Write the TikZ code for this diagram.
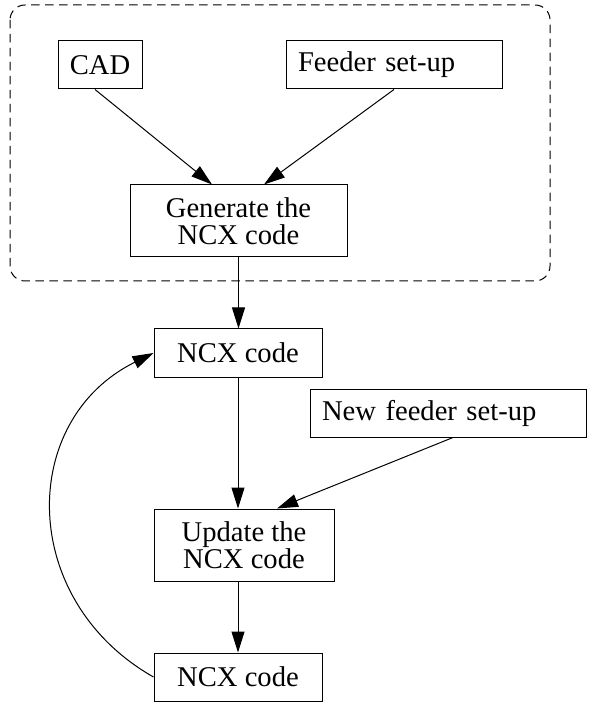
\documentclass[tikz,border=0pt]{standalone}
\usepackage{fontspec}
\setmainfont{Liberation Serif}
\usetikzlibrary{arrows.meta}
\begin{document}
\begin{tikzpicture}[x=0.5pt,y=-0.5pt,line width=0.5pt,
    box/.style={draw,rectangle,inner sep=0pt,font=\fontsize{14.3pt}{13.5pt}\selectfont,align=center},
    leftbox/.style={box,inner xsep=6pt,align=left},
    flow/.style={-{Triangle[length=10.5pt,width=6.5pt]}}]
        \useasboundingbox (0,0) rectangle (588,704);
        \draw [dash pattern=on 4.2pt off 2.8pt, rounded corners=7.5pt] (10,5) rectangle (550,281);
        \node [box, minimum width=42pt, minimum height=24pt] (cad) at (100,65) {CAD};
        \node [leftbox, text width=96pt, minimum height=24pt] (feed) at (394,65) {Feeder set-up};
        \node [box, minimum width=108.5pt, minimum height=36pt] (gen) at (238.5,221) {Generate the\\NCX code};
        \node [box, minimum width=84pt, minimum height=24pt] (ncxa) at (238,353) {NCX code};
        \node [leftbox, text width=126pt, minimum height=24pt] (newfeed) at (448,413) {New feeder set-up};
        \node [box, minimum width=90pt, minimum height=36pt] (upd) at (244,545) {Update the\\NCX code};
        \node [box, minimum width=84pt, minimum height=24pt] (ncxb) at (238,677) {NCX code};
        \draw [flow] ([xshift=-2.5pt]cad.south) -- ([xshift=-13.25pt]gen.north);
        \draw [flow] (feed.south) -- ([xshift=12.75pt]gen.north);
        \draw [flow] (gen.south) -- (gen.south |- ncxa.north);
        \draw [flow] (ncxa.south) -- (ncxa.south |- upd.north);
        \draw [flow] ([xshift=2.5pt]newfeed.south) -- ([xshift=16.5pt]upd.north);
        \draw [flow] (upd.south -| ncxb.north) -- (ncxb.north);
        \draw [flow] (ncxb.west) .. controls (18,600) and (18,420) .. (ncxa.west);
    \end{tikzpicture}
\end{document}
